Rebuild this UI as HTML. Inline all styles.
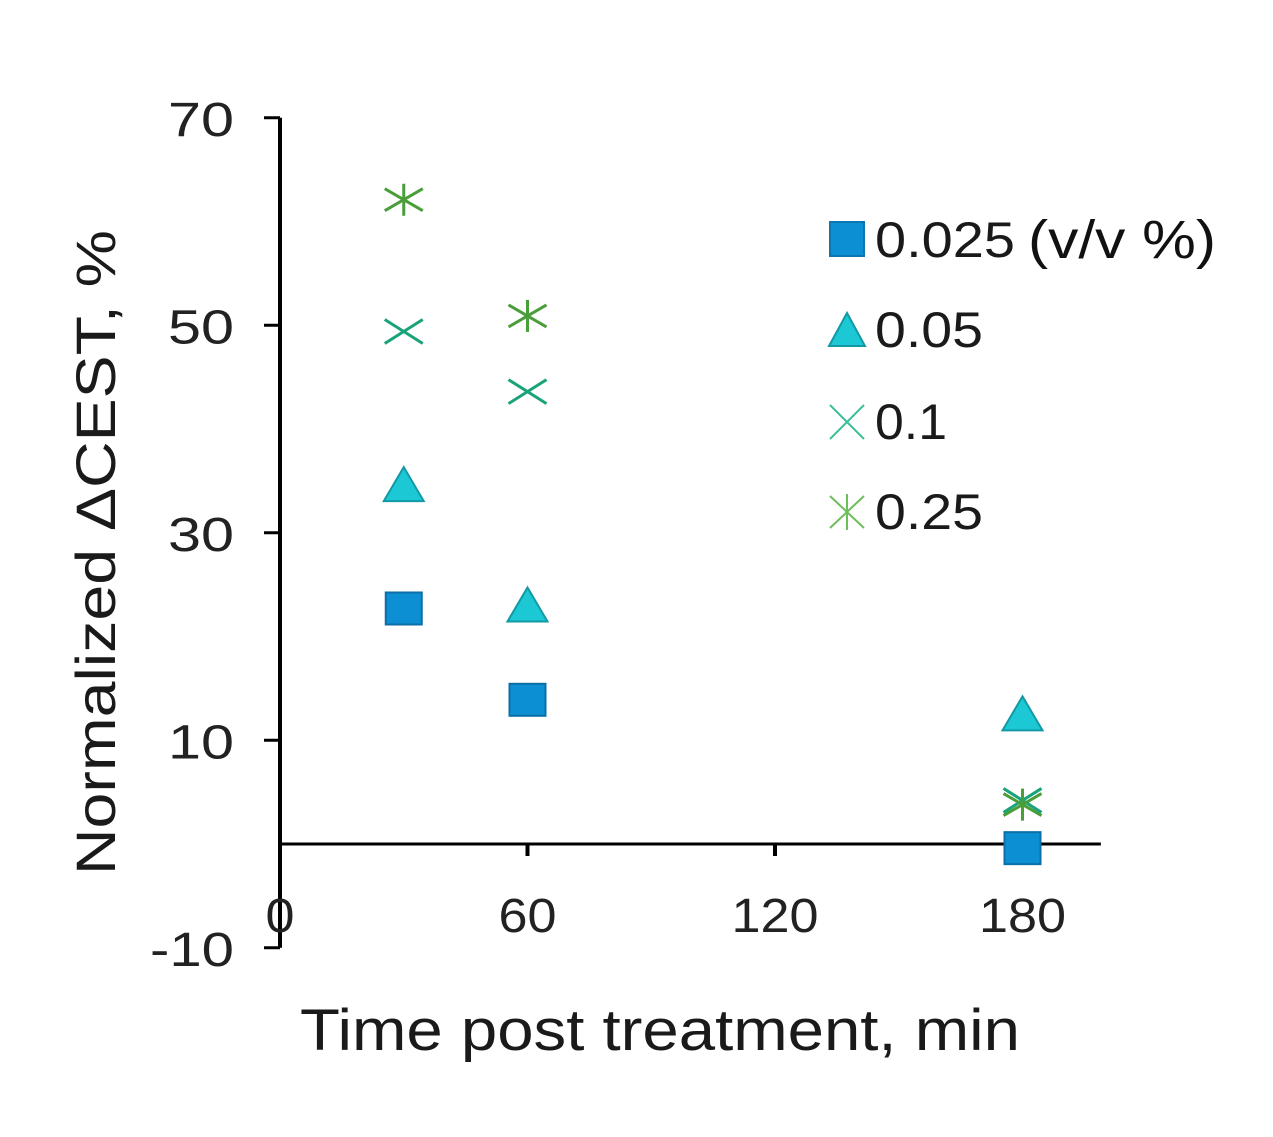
<!DOCTYPE html>
<html><head><meta charset="utf-8"><style>
html,body{margin:0;padding:0;background:#fff;}
svg{display:block;font-family:"Liberation Sans",Arial,sans-serif;}
</style></head><body>
<svg id="chart" width="1273" height="1137" viewBox="0 0 1273 1137">
<g id="axes"></g><g id="marks"></g>
<g>
<rect x="830" y="222" width="34" height="34" fill="#0d8fd4" stroke="#0b76b0" stroke-width="2"/>
<text x="875" y="257" font-size="50" fill="#1a1a1a" textLength="140" lengthAdjust="spacingAndGlyphs">0.025</text>
<text x="1028" y="258" font-size="54" fill="#111" textLength="188" lengthAdjust="spacingAndGlyphs">(v/v %)</text>
<polygon points="847,313 865,346 829,346" fill="#1cc8d3" stroke="#119aa6" stroke-width="2"/>
<text x="875" y="347" font-size="50" fill="#1a1a1a" textLength="108" lengthAdjust="spacingAndGlyphs">0.05</text>
<path d="M830,405 L864,439 M864,405 L830,439" stroke="#3cc09a" stroke-width="2"/>
<text x="875" y="439" font-size="50" fill="#1a1a1a" textLength="72" lengthAdjust="spacingAndGlyphs">0.1</text>
<path d="M830,496 L864,528 M864,496 L830,528 M847,494 L847,530" stroke="#6cbf5a" stroke-width="2"/>
<text x="875" y="529" font-size="50" fill="#1a1a1a" textLength="108" lengthAdjust="spacingAndGlyphs">0.25</text>
</g>
<text x="300" y="1050" font-size="58" fill="#1a1a1a" textLength="720" lengthAdjust="spacingAndGlyphs">Time post treatment, min</text>
<text transform="translate(115,875) rotate(-90)" font-size="56" fill="#1a1a1a" textLength="645" lengthAdjust="spacingAndGlyphs">Normalized ΔCEST, %</text>
</svg>
<script>
const times=[30,60,180];
const s0025=[22.7,13.9,-0.4];
const s005=[34.4,22.8,12.3];
const s01=[49.4,43.6,4.2];
const s025=[62.1,50.9,3.8];
const yTicks=[70,50,30,10,-10];
const xTicks=[0,60,120,180];
const NS='http://www.w3.org/2000/svg';
const X=v=>280+v*4.125;
const Y=v=>844-v*10.375;
function mk(tag,attrs,parent){const e=document.createElementNS(NS,tag);for(const k in attrs)e.setAttribute(k,attrs[k]);parent.appendChild(e);return e;}
const ax=document.getElementById('axes'),mg=document.getElementById('marks');
let e=mk('line',{x1:280,y1:Y(70),x2:280,y2:Y(-10),stroke:'#000','stroke-width':4},ax);


e=mk('line',{x1:278,y1:Y(0),x2:X(199),y2:Y(0),stroke:'#000','stroke-width':3},ax);


yTicks.forEach(v=>{
 let t=mk('line',{x1:264,y1:Y(v),x2:280,y2:Y(v),stroke:'#000','stroke-width':3},ax);
 
 
 const s=String(v);
 let l=mk('text',{x:234,y:Y(v)+18,'font-size':48,'text-anchor':'end',fill:'#222',textLength:v<0?84:66,lengthAdjust:'spacingAndGlyphs'},ax);
 l.textContent=s;
 
 
});
xTicks.forEach(v=>{
 if(v>0){let t=mk('line',{x1:X(v),y1:Y(0),x2:X(v),y2:Y(0)+12,stroke:'#000','stroke-width':4},ax);
 
 }
 const s=String(v);
 let l=mk('text',{x:X(v),y:932,'font-size':48,'text-anchor':'middle',fill:'#222',textLength:s.length*29,lengthAdjust:'spacingAndGlyphs'},ax);
 l.textContent=s;
 
 
});
times.forEach((t,i)=>{
 let cx=X(t),cy;
 cy=Y(s0025[i]);
 let a=mk('rect',{x:cx-18,y:cy-16,width:36,height:32,fill:'#0d8fd4',stroke:'#0b6fa8','stroke-width':2},mg);
 
 
 cy=Y(s005[i]);
 let b=mk('polygon',{points:`${cx},${cy-20} ${cx+20},${cy+14} ${cx-20},${cy+14}`,fill:'#1cc8d3',stroke:'#119aa6','stroke-width':2},mg);
 
 
 cy=Y(s01[i]);
 let c=mk('path',{d:`M${cx-19},${cy-12} L${cx+19},${cy+12} M${cx+19},${cy-12} L${cx-19},${cy+12}`,stroke:'#1aa37a','stroke-width':3},mg);
 
 
 cy=Y(s025[i]);
 let d=mk('path',{d:`M${cx-19},${cy-11} L${cx+19},${cy+11} M${cx+19},${cy-11} L${cx-19},${cy+11} M${cx},${cy-16} L${cx},${cy+16}`,stroke:'#4a9e3a','stroke-width':3},mg);
 
 
});
</script>
</body></html>
